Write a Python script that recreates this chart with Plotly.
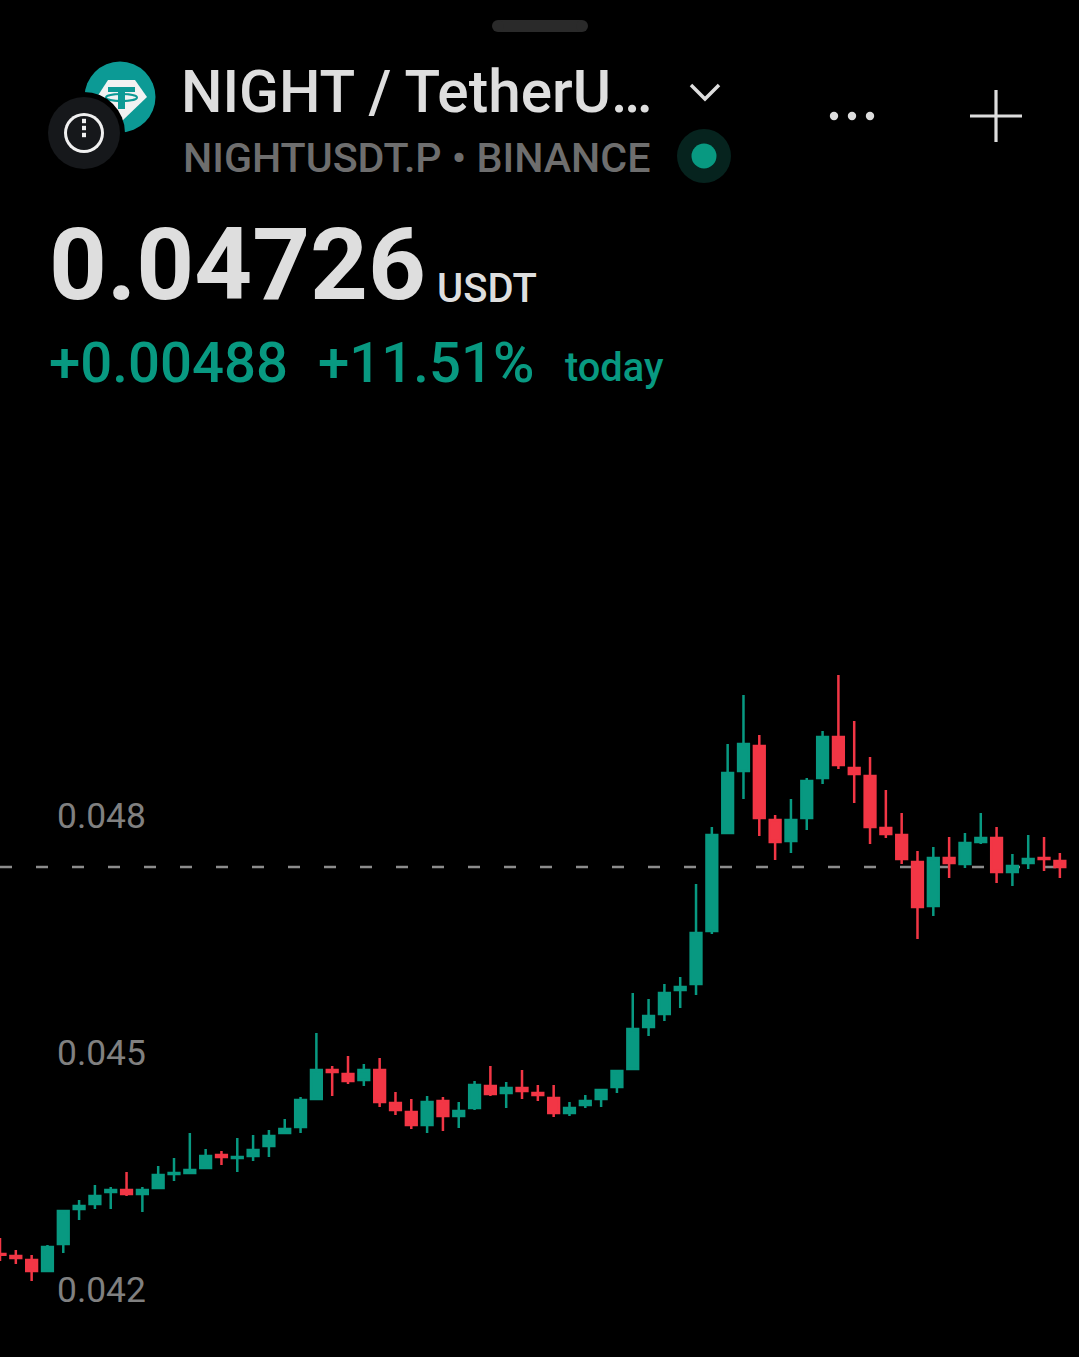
import plotly.graph_objects as go

W, H = 1079, 1357
TITLE = "NIGHT / TetherU…"
SUBTITLE = "NIGHTUSDT.P • BINANCE"
LAST_PRICE = 0.04726
TICK_VALUES = [0.042, 0.045, 0.048]
TICK_LABELS = ["0.042", "0.045", "0.048"]

candle_index = list(range(68))
open_prices = [42361,42336,42285,42146,42488,42931,42994,43146,43171,43121,43197,43374,43387,43450,43614,43577,43602,43728,43893,43969,
               44323,44690,44640,44564,44690,44273,44159,43994,44298,44108,44209,44488,44399,44463,44399,44336,44146,44247,44323,44475,
               44703,45235,45399,45703,45779,46450,47690,48475,48792,47855,47589,47880,48387,48906,48513,48412,47754,47665,47323,46766,
               47374,47298,47576,47627,47197,47311,47374,47336]
high_prices = [42564,42412,42349,42475,42918,43045,43235,43209,43399,43209,43475,43577,43893,43690,43665,43830,43868,43931,44070,44349,
               45159,44741,44868,44766,44842,44412,44323,44361,44349,44285,44551,44741,44539,44690,44501,44501,44285,44374,44450,44690,
               45665,45589,45779,45868,47045,47766,48817,49437,48931,47918,48121,48387,48981,49690,49108,48652,48235,47944,47463,47513,
               47640,47690,47944,47766,47425,47665,47640,47437]
low_prices = [42273,42235,42020,42134,42374,42792,42931,42931,43096,42893,43184,43285,43374,43437,43488,43399,43539,43589,43880,43893,
              44311,44361,44513,44488,44222,44121,43944,43893,43918,43956,44184,44361,44209,44323,44298,44095,44108,44209,44222,44399,
              44690,45121,45311,45475,45640,46412,47678,48121,47652,47349,47437,47728,48311,48500,48070,47551,47627,47298,46349,46640,
              47121,47247,47551,47057,47019,47235,47209,47121]
close_prices = [42350,42311,42146,42450,42906,42969,43096,43171,43121,43171,43361,43387,43425,43602,43589,43589,43678,43855,43944,44311,
                44690,44665,44551,44690,44285,44184,43994,44285,44108,44171,44501,44387,44463,44425,44374,44146,44209,44298,44437,44678,
                45209,45374,45665,45741,46425,47665,48450,48817,47880,47576,47855,48349,48906,48551,48437,47766,47678,47361,46754,47374,
                47311,47564,47627,47197,47273,47361,47361,47260]

UP = "#089981"
DOWN = "#F23645"

to_price = lambda seq: [v / 1e6 for v in seq]
px = lambda x: x / W
py = lambda y: 1 - y / H

fig = go.Figure(go.Candlestick(
    x=candle_index,
    open=to_price(open_prices), high=to_price(high_prices),
    low=to_price(low_prices), close=to_price(close_prices),
    increasing=dict(line=dict(color=UP, width=2.5), fillcolor=UP),
    decreasing=dict(line=dict(color=DOWN, width=2.5), fillcolor=DOWN),
    whiskerwidth=0, hoverinfo="skip", showlegend=False,
))

shapes = []
def circle(cx, cy, r, color):
    shapes.append(dict(type="circle", xref="paper", yref="paper", x0=px(cx - r), x1=px(cx + r),
                       y0=py(cy + r), y1=py(cy - r), fillcolor=color, line_width=0, layer="above"))
def poly(points, fill=None, line=None, width=0, close=True):
    d = "M" + " L".join(f"{px(x):.5f},{py(y):.5f}" for x, y in points) + (" Z" if close else "")
    shapes.append(dict(type="path", xref="paper", yref="paper", path=d, fillcolor=fill,
                       line=dict(color=line or "rgba(0,0,0,0)", width=width), layer="above"))

# last price line
shapes.append(dict(type="line", xref="paper", x0=0, x1=1, yref="y", y0=LAST_PRICE, y1=LAST_PRICE,
                   line=dict(color="#8c8c8c", width=2.5, dash="12px,24px"), layer="below"))

# drag handle
poly([(498, 20), (582, 20), (582, 32), (498, 32)], fill="#2a2a2a")
circle(498, 26, 6, "#2a2a2a")
circle(582, 26, 6, "#2a2a2a")

# Tether logo
circle(120, 97, 35.5, "#0C9A95")
poly([(108, 80), (135, 80), (147, 97), (122, 121), (97, 97)], fill="#f2f2f2")
poly([(108, 87), (135, 87), (135, 92), (125, 92), (125, 109), (118, 109), (118, 92), (108, 92)], fill="#0C9A95")
shapes.append(dict(type="circle", xref="paper", yref="paper", x0=px(106), x1=px(137), y0=py(101), y1=py(94),
                   line=dict(color="#0C9A95", width=2), layer="above"))
# info badge
circle(84, 133, 41, "#000000")
circle(84, 133, 36, "#16181b")
circle(84, 133, 20, "#f0f0f0")
circle(84, 133, 17, "#16181b")
for yy in (121, 128, 135):
    shapes.append(dict(type="rect", xref="paper", yref="paper", x0=px(82), x1=px(86), y0=py(yy + 2.2), y1=py(yy - 2.2),
                       fillcolor="#f0f0f0", line_width=0, layer="above"))

# chevron, menu, plus
poly([(691, 85), (705, 99), (719, 85)], line="#dddddd", width=3.5, close=False)
for xx in (834, 852, 870):
    circle(xx, 116, 4.2, "#dddddd")
poly([(970, 116), (1022, 116)], line="#dddddd", width=3.2, close=False)
poly([(996, 90), (996, 142)], line="#dddddd", width=3.2, close=False)

# live dot
circle(704, 156, 27, "#06231e")
circle(704, 156, 12.5, UP)

def text(x, y, s, size, color, weight=400, family="Roboto"):
    return dict(xref="paper", yref="paper", x=px(x), y=py(y), xanchor="left", yanchor="middle",
                text=s, showarrow=False, borderpad=0, borderwidth=0,
                font=dict(family=family, size=size, color=color, weight=weight))

annotations = [
    text(181, 92, TITLE, 58.5, "#dedede", 500),
    text(183, 158.5, SUBTITLE, 41.2, "#6e6e6e", 500),
    text(48.5, 265, f"{LAST_PRICE:.5f}", 101, "#dedede", 700),
    text(437, 288, "USDT", 40, "#dedede", 500),
    text(49, 362.5, "+0.00488", 56.3, UP, 500),
    text(318, 362.5, "+11.51%", 56.3, UP, 500),
    text(565, 368, "today", 39.8, UP, 500),
]

fig.update_layout(
    width=W, height=H, margin=dict(l=0, r=0, t=0, b=0),
    paper_bgcolor="#000000", plot_bgcolor="#000000",
    showlegend=False, hovermode=False, boxgap=0.32, boxgroupgap=0,
    font=dict(family="Roboto"),
    xaxis=dict(range=[0.0, 68.21], visible=False, rangeslider=dict(visible=False), fixedrange=True),
    yaxis=dict(range=[0.041057, 0.058235], showgrid=False, zeroline=False, showline=False, fixedrange=True,
               side="left", ticks="", tickmode="array", tickvals=TICK_VALUES, ticktext=TICK_LABELS,
               ticklabelposition="inside", ticklabelstandoff=54, ticklabelshift=7,
               tickfont=dict(family="Roboto", size=35.4, color="#808080")),
    shapes=shapes, annotations=annotations,
)

fig.write_html("out.html", config=dict(displayModeBar=False, staticPlot=True),
               post_script="document.body.style.margin='0';document.body.style.background='#000';document.body.style.overflow='hidden';")
